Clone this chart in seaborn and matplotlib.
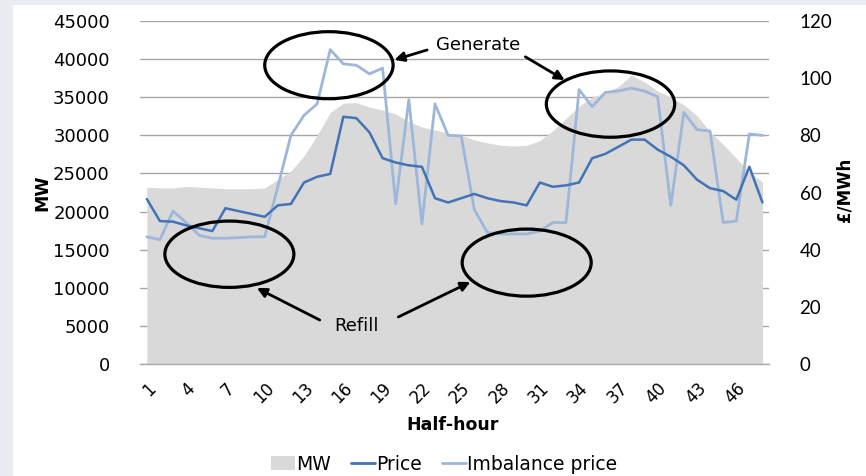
import matplotlib
matplotlib.use('Agg')
import matplotlib.pyplot as plt
import seaborn as sns
from matplotlib.patches import Ellipse, Rectangle, Patch
from matplotlib.lines import Line2D

# ------- data -------
half_hour = list(range(1, 49))
mw = [23200, 23100, 23100, 23300, 23200, 23100, 23000, 23000, 23000, 23100,
      24200, 25300, 27300, 30000, 33000, 34200, 34300, 33700, 33300, 32800,
      31800, 31100, 30700, 30300, 30000, 29400, 29000, 28700, 28600, 28700,
      29300, 30600, 32200, 33800, 35000, 35600, 36400, 37900, 37000, 35800,
      35000, 34000, 32600, 30500, 28800, 27000, 25200, 23900]
price = [57.7, 50.0, 49.8, 48.5, 47.5, 46.5, 54.5, 53.5, 52.5, 51.5,
         55.5, 56.0, 63.5, 65.5, 66.5, 86.5, 86.0, 81.0, 72.0, 70.5,
         69.5, 69.0, 58.0, 56.5, 58.0, 59.5, 58.0, 57.0, 56.5, 55.5,
         63.5, 62.0, 62.5, 63.5, 72.0, 73.5, 76.0, 78.5, 78.5, 75.0,
         72.5, 69.5, 64.5, 61.5, 60.5, 57.5, 69.0, 56.5]
imbalance = [44.5, 43.5, 53.5, 49.5, 45.0, 44.0, 44.0, 44.2, 44.5, 44.5,
             62.0, 80.0, 87.0, 91.0, 110.0, 105.0, 104.5, 101.5, 103.5, 56.0,
             92.5, 49.0, 91.0, 80.0, 79.8, 54.0, 46.0, 45.5, 45.5, 45.5,
             46.5, 49.5, 49.5, 96.0, 90.0, 95.0, 95.5, 96.5, 95.5, 93.5,
             55.5, 88.0, 82.0, 81.5, 49.5, 50.0, 80.5, 80.0]
x_labels = [str(h) for h in half_hour[::3]]

c_area = '#d9d9d9'
c_price = '#4273b6'
c_imb = '#9db7da'
c_grid = '#a6a6a6'

sns.set_style('white')
plt.rcParams['font.family'] = ['DejaVu Sans']
plt.rcParams['text.color'] = 'black'
plt.rcParams['axes.labelcolor'] = 'black'
plt.rcParams['xtick.color'] = 'black'
plt.rcParams['ytick.color'] = 'black'

fig = plt.figure(figsize=(8.66, 4.76), dpi=100, facecolor='#e9edf3')
fig.add_artist(Rectangle((13 / 866, 0), 1, (476 - 5) / 476, transform=fig.transFigure,
                         facecolor='white', edgecolor='none', zorder=-10))
ax = fig.add_axes([140.3 / 866, 112 / 476, 628.7 / 866, 343 / 476])
ax.patch.set_visible(False)

# MW area
ax.fill_between(half_hour, mw, 0, color=c_area, linewidth=0, zorder=2)
ax.set_ylim(0, 45000)
ax.set_xlim(0.5, 48.5)
ax.set_yticks(range(0, 45001, 5000))
ax.yaxis.grid(True, color=c_grid, linewidth=1, zorder=0)
ax.set_axisbelow(True)
ax.tick_params(axis='y', length=0, pad=22, labelsize=13, labelcolor='black')

ax.set_xticks(half_hour[::3])
ax.set_xticklabels(x_labels, rotation=45, ha='right', rotation_mode='anchor', fontsize=12)
ax.set_xticks([h - 0.5 for h in half_hour] + [48.5], minor=True)
ax.tick_params(axis='x', which='major', length=0, pad=11, labelcolor='black')
ax.tick_params(axis='x', which='minor', length=6, color=c_grid, width=1, direction='out')
for s in ['left', 'right', 'top']:
    ax.spines[s].set_visible(False)
ax.spines['bottom'].set_color(c_grid)
ax.spines['bottom'].set_linewidth(1)

# price lines on the right axis
ax2 = ax.twinx()
sns.lineplot(x=half_hour, y=imbalance, ax=ax2, color=c_imb, linewidth=2.0, legend=False)
sns.lineplot(x=half_hour, y=price, ax=ax2, color=c_price, linewidth=1.8, legend=False)
ax2.set_ylim(0, 120)
ax2.set_xlim(0.5, 48.5)
ax2.set_yticks(range(0, 121, 20))
ax2.tick_params(axis='y', length=0, pad=22, labelcolor='black')
for t in ax2.get_yticklabels():
    t.set_fontfamily('Lato')
    t.set_fontsize(13.5)
for s in ax2.spines.values():
    s.set_visible(False)

# axis titles
fig.text(42 / 866, 1 - 193 / 476, 'MW', rotation=90, ha='center', va='center',
         fontsize=12.5, fontweight='bold', color='black')
fig.text(845 / 866, 1 - 190 / 476, '£/MWh', rotation=90, ha='center', va='center',
         fontsize=12, fontweight='bold', color='black')
fig.text(453 / 866, 1 - 425 / 476, 'Half-hour', ha='center', va='center',
         fontsize=12.5, fontweight='bold', color='black')

# annotations: ellipses + arrows, drawn on top of the lines
for cx, cy, w, h in [(14.9, 39200, 9.8, 8800), (36.4, 34100, 9.8, 8700),
                     (7.3, 14400, 9.85, 8700), (30.0, 13300, 9.85, 8800)]:
    ax2.add_patch(Ellipse((cx, cy), w, h, transform=ax.transData, fill=False,
                          edgecolor='black', linewidth=2.3, zorder=5))

arrow_kw = dict(arrowstyle='-|>', color='black', lw=2, mutation_scale=14, shrinkA=0, shrinkB=0)
for tail, head in [((22.4, 41200), (19.9, 39900)), ((29.9, 40300), (32.9, 37250)),
                   ((14.2, 5770), (9.4, 9970)), ((20.2, 6170), (25.7, 10760))]:
    ax2.annotate('', xy=head, xytext=tail, xycoords=ax.transData, textcoords=ax.transData,
                 arrowprops=arrow_kw, zorder=6)

ax2.text(26.3, 41850, 'Generate', transform=ax.transData, ha='center', va='center',
         fontsize=13, color='black', zorder=6)
ax2.text(17.0, 4990, 'Refill', transform=ax.transData, ha='center', va='center',
         fontsize=13, color='black', zorder=6)

# legend
handles = [Patch(facecolor=c_area, edgecolor='none'),
           Line2D([], [], color=c_price, linewidth=2),
           Line2D([], [], color=c_imb, linewidth=2)]
leg = fig.legend(handles, ['MW', 'Price', 'Imbalance price'], loc='center',
                 bbox_to_anchor=(444 / 866, 1 - 464 / 476), ncol=3, frameon=False,
                 handlelength=1.3, handletextpad=0.05, columnspacing=1.05,
                 prop={'family': 'DejaVu Sans', 'size': 13.5})
for t in leg.get_texts():
    t.set_color('black')

fig.savefig('out.png', dpi=100, facecolor=fig.get_facecolor())
